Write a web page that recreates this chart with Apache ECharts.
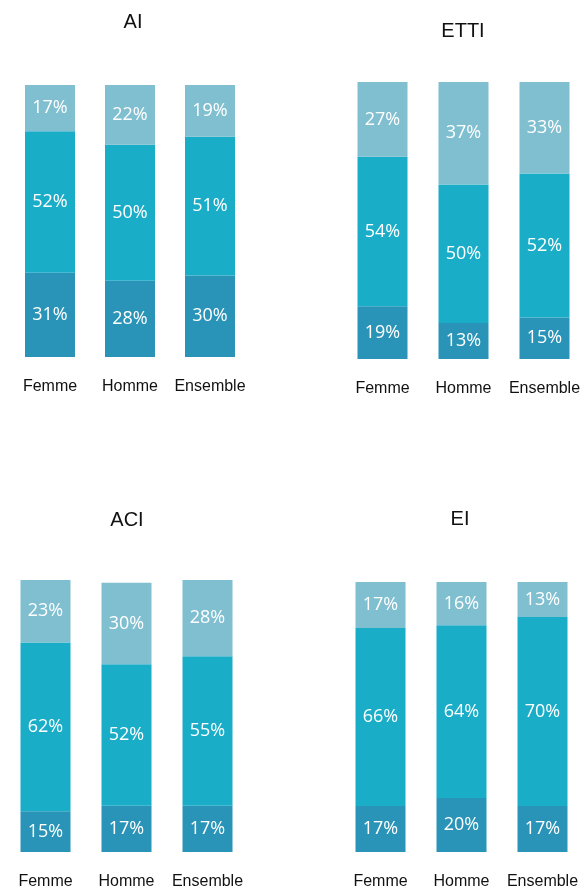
<!DOCTYPE html>
<html>
<head>
<meta charset="utf-8">
<script src="https://cdn.jsdelivr.net/npm/echarts@6/dist/echarts.min.js"></script>
<style>
  html, body { margin: 0; padding: 0; background: #fff; }
  #chart { width: 587px; height: 890px; }
</style>
</head>
<body>
<div id="chart"></div>
<script>
// données
const categories = ['Femme', 'Homme', 'Ensemble'];
const panelTitles = ['AI', 'ETTI', 'ACI', 'EI'];
// par panneau : [bas, milieu, haut] pour Femme, Homme, Ensemble
const bottomValues = [[31, 28, 30], [19, 13, 15], [15, 17, 17], [17, 20, 17]];
const middleValues = [[52, 50, 51], [54, 50, 52], [62, 52, 55], [66, 64, 70]];
const topValues    = [[17, 22, 19], [27, 37, 33], [23, 30, 28], [17, 16, 13]];

const colors = ['#2994b7', '#1aadc8', '#7fbfd0'];

// position des grilles
const grids = [
  { left: 10, top: 85, width: 240, height: 272 },
  { left: 342, top: 82, width: 243, height: 277 },
  { left: 5, top: 580, width: 243, height: 277 },
  { left: 340, top: 582, width: 243, height: 273 }
];
const titlePos = [[133, 22], [463, 31], [127, 520], [460, 519]];

let chart = echarts.init(document.getElementById('chart'));

let xAxes = [], yAxes = [], series = [], graphics = [];
grids.forEach((g, i) => {
  xAxes.push({
    type: 'category',
    gridIndex: i,
    data: categories,
    axisLine: { show: false },
    axisTick: { show: false },
    axisLabel: {
      interval: 0,
      color: '#111',
      fontSize: 16,
      fontFamily: 'Liberation Sans, Arial',
      margin: 22
    }
  });
  yAxes.push({
    type: 'value',
    gridIndex: i,
    min: 0,
    max: 100,
    show: false
  });
  [bottomValues[i], middleValues[i], topValues[i]].forEach((vals, k) => {
    series.push({
      type: 'bar',
      xAxisIndex: i,
      yAxisIndex: i,
      stack: 'p' + i,
      barWidth: 50,
      data: vals,
      itemStyle: { color: colors[k] },
      label: {
        show: true,
        position: 'inside',
        formatter: '{c}%',
        color: '#fff',
        fontSize: 18,
        fontFamily: 'Open Sans'
      }
    });
  });
  graphics.push({
    type: 'text',
    x: titlePos[i][0],
    y: titlePos[i][1],
    style: {
      text: panelTitles[i],
      fill: '#111',
      font: '20px "Liberation Sans", Arial',
      textAlign: 'center',
      textVerticalAlign: 'middle'
    }
  });
});

chart.setOption({
  animation: false,
  grid: grids,
  xAxis: xAxes,
  yAxis: yAxes,
  series: series,
  graphic: graphics
});
</script>
</body>
</html>
